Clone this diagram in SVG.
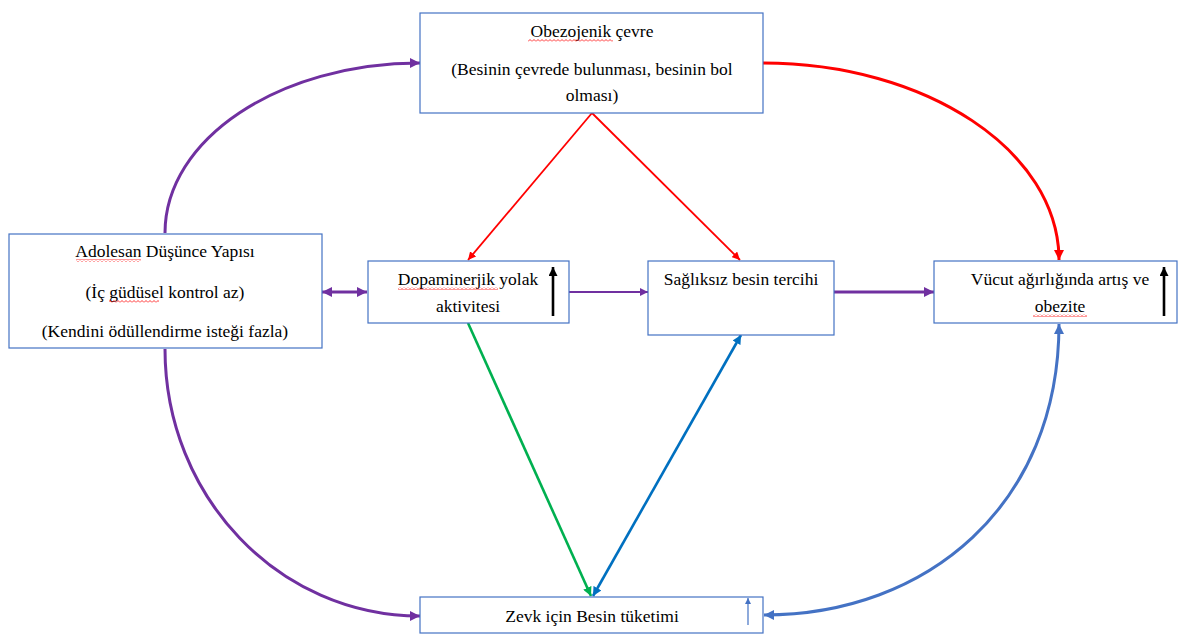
<svg xmlns="http://www.w3.org/2000/svg" width="1179" height="635" viewBox="0 0 1179 635">
<style>
.box{fill:#fff;stroke:#4472c4;stroke-width:1.2}
.t{font-family:"Liberation Serif","Times New Roman",serif;font-size:17.5px;fill:#000;text-anchor:middle}
.c{fill:none}
</style>
<defs>
<pattern id="wave" width="4" height="3" patternUnits="userSpaceOnUse">
<path d="M0,2.5 L2,0.5 L4,2.5" fill="none" stroke="#ff0000" stroke-width="0.8"/>
</pattern>
<marker id="mP" viewBox="0 0 10 10" refX="10" refY="5" markerWidth="10" markerHeight="10" markerUnits="userSpaceOnUse" orient="auto-start-reverse"><path d="M0,0 L10,5 L0,10 z" fill="#7030a0"/></marker>
<marker id="mPs" viewBox="0 0 10 10" refX="10" refY="5" markerWidth="8" markerHeight="8" markerUnits="userSpaceOnUse" orient="auto-start-reverse"><path d="M0,0 L10,5 L0,10 z" fill="#7030a0"/></marker>
<marker id="mR" viewBox="0 0 10 10" refX="10" refY="5" markerWidth="10" markerHeight="10" markerUnits="userSpaceOnUse" orient="auto-start-reverse"><path d="M0,0 L10,5 L0,10 z" fill="#ff0000"/></marker>
<marker id="mRs" viewBox="0 0 10 10" refX="10" refY="5" markerWidth="8" markerHeight="8" markerUnits="userSpaceOnUse" orient="auto-start-reverse"><path d="M0,0 L10,5 L0,10 z" fill="#ff0000"/></marker>
<marker id="mG" viewBox="0 0 10 10" refX="10" refY="5" markerWidth="9" markerHeight="9" markerUnits="userSpaceOnUse" orient="auto-start-reverse"><path d="M0,0 L10,5 L0,10 z" fill="#00b050"/></marker>
<marker id="mB" viewBox="0 0 10 10" refX="10" refY="5" markerWidth="9" markerHeight="9" markerUnits="userSpaceOnUse" orient="auto-start-reverse"><path d="M0,0 L10,5 L0,10 z" fill="#0070c0"/></marker>
<marker id="mBc" viewBox="0 0 10 10" refX="10" refY="5" markerWidth="10" markerHeight="10" markerUnits="userSpaceOnUse" orient="auto-start-reverse"><path d="M0,0 L10,5 L0,10 z" fill="#4472c4"/></marker>
<marker id="mBs" viewBox="0 0 10 10" refX="10" refY="5" markerWidth="6" markerHeight="6" markerUnits="userSpaceOnUse" orient="auto-start-reverse"><path d="M0,0 L10,5 L0,10 z" fill="#4472c4"/></marker>
<marker id="mK" viewBox="0 0 10 10" refX="10" refY="5" markerWidth="10" markerHeight="9" markerUnits="userSpaceOnUse" orient="auto-start-reverse"><path d="M0,0 L10,5 L0,10 z" fill="#000"/></marker>
</defs>
<rect width="1179" height="635" fill="#fff"/>

<g id="connectors">
<path class="c" d="M165,233 C165,139 279,63 420,63" stroke="#7030a0" stroke-width="3" marker-end="url(#mP)"/>
<path class="c" d="M165,349 C165,497 279,616 420,616" stroke="#7030a0" stroke-width="3" marker-end="url(#mP)"/>
<path class="c" d="M763,63 C926,63 1059,151 1059,260" stroke="#ff0000" stroke-width="3" marker-end="url(#mR)"/>
<path class="c" d="M764,615 C927,615 1059,505 1059,324" stroke="#4472c4" stroke-width="3" marker-start="url(#mBc)" marker-end="url(#mBc)"/>
<path class="c" d="M592,113 L468,260" stroke="#ff0000" stroke-width="1.8" marker-end="url(#mRs)"/>
<path class="c" d="M592,113 L740,260" stroke="#ff0000" stroke-width="1.8" marker-end="url(#mRs)"/>
<path class="c" d="M322,292 L367,292" stroke="#7030a0" stroke-width="3" marker-start="url(#mP)" marker-end="url(#mP)"/>
<path class="c" d="M569,292 L648,292" stroke="#7030a0" stroke-width="1.8" marker-end="url(#mPs)"/>
<path class="c" d="M834,292 L934,292" stroke="#7030a0" stroke-width="3.2" marker-end="url(#mP)"/>
<path class="c" d="M468,323 L591,596" stroke="#00b050" stroke-width="2.6" marker-end="url(#mG)"/>
<path class="c" d="M593,596 L741,335" stroke="#0070c0" stroke-width="2.6" marker-start="url(#mB)" marker-end="url(#mB)"/>
</g>

<g id="node-obezojenik">
<rect class="box" x="420" y="13" width="343" height="100"/>
<text class="t" x="592" y="37">Obezojenik çevre</text>
<text class="t" x="592" y="75">(Besinin çevrede bulunması, besinin bol</text>
<text class="t" x="592" y="101">olması)</text>
<rect x="528" y="39" width="85" height="3" fill="url(#wave)"/>
</g>

<g id="node-adolesan">
<rect class="box" x="9" y="234" width="313" height="114"/>
<text class="t" x="165" y="257">Adolesan Düşünce Yapısı</text>
<text class="t" x="165" y="298">(İç güdüsel kontrol az)</text>
<text class="t" x="165" y="337">(Kendini ödüllendirme isteği fazla)</text>
<rect x="76" y="259" width="65" height="3" fill="url(#wave)"/>
<rect x="109" y="300" width="50" height="3" fill="url(#wave)"/>
</g>

<g id="node-dopaminerjik">
<rect class="box" x="368" y="261" width="201" height="62"/>
<text class="t" x="468" y="285">Dopaminerjik yolak</text>
<text class="t" x="468" y="312">aktivitesi</text>
<rect x="398" y="287" width="100" height="3" fill="url(#wave)"/>
<line x1="553" y1="316" x2="553" y2="267" stroke="#000" stroke-width="2.6" marker-end="url(#mK)"/>
</g>

<g id="node-sagliksiz">
<rect class="box" x="648" y="261" width="186" height="74"/>
<text class="t" x="741" y="285">Sağlıksız besin tercihi</text>
</g>

<g id="node-vucut">
<rect class="box" x="934" y="261" width="243" height="62"/>
<text class="t" x="1060" y="285">Vücut ağırlığında artış ve</text>
<text class="t" x="1060" y="312">obezite</text>
<rect x="1033" y="314" width="54" height="3" fill="url(#wave)"/>
<line x1="1164" y1="316" x2="1164" y2="267" stroke="#000" stroke-width="2.6" marker-end="url(#mK)"/>
</g>

<g id="node-zevk">
<rect class="box" x="420" y="597" width="343" height="36"/>
<text class="t" x="592" y="622">Zevk için Besin tüketimi</text>
<line x1="748" y1="625" x2="748" y2="598" stroke="#4472c4" stroke-width="1.2" marker-end="url(#mBs)"/>
</g>
</svg>
